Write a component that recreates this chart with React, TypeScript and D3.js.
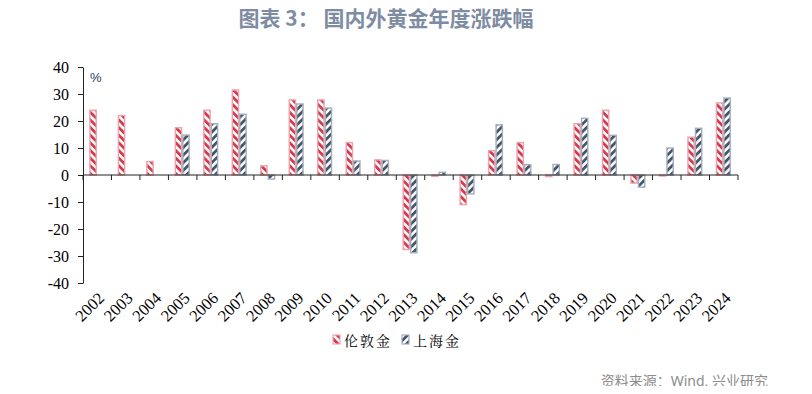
import { useEffect, useRef } from "react";
import * as d3 from "d3";

const years = [
  "2002", "2003", "2004", "2005", "2006", "2007", "2008", "2009", "2010", "2011", "2012",
  "2013", "2014", "2015", "2016", "2017", "2018", "2019", "2020", "2021", "2022", "2023", "2024",
];
const londonGold = [
  24, 22, 5, 17.5, 24, 31.5, 3.4, 27.8, 27.8, 12, 5.6,
  -27.6, -0.5, -11, 9, 12, -0.6, 19, 24, -3, -0.3, 14, 26.7,
];
const shanghaiGold: (number | null)[] = [
  null, null, null, 14.8, 19, 22.5, -1.5, 26.3, 24.8, 5.2, 5.4,
  -28.8, 1, -7, 18.6, 3.8, 3.9, 21, 14.7, -4.5, 10, 17.3, 28.5,
];
const seriesNames = ["伦敦金", "上海金"];
const yTicks = [-40, -30, -20, -10, 0, 10, 20, 30, 40];

const RED = "#D23A4E";
const RED_EDGE = "#EBA3AD";
const BLUE = "#44546A";
const BLUE_EDGE = "#A3ADBC";

export default function App() {
  const svgRef = useRef<SVGSVGElement>(null);

  useEffect(() => {
    if (!svgRef.current) return;
    const svg = d3.select(svgRef.current);
    svg.selectAll("*").remove();

    const W = 812, H = 394;
    const left = 83, right = 738, top = 67, bottom = 283;

    svg.attr("width", W).attr("height", H);
    svg.append("rect").attr("width", W).attr("height", H).attr("fill", "#fff");

    // hatch patterns
    const defs = svg.append("defs");
    const makePattern = (id: string, color: string, angle: number) => {
      const p = defs.append("pattern")
        .attr("id", id)
        .attr("patternUnits", "userSpaceOnUse")
        .attr("width", 5.4)
        .attr("height", 5.4)
        .attr("patternTransform", `rotate(${angle})`);
      p.append("rect").attr("width", 5.4).attr("height", 5.4).attr("fill", "#fff");
      p.append("rect").attr("x", 0).attr("y", 0).attr("width", 2.8).attr("height", 5.4).attr("fill", color);
    };
    makePattern("hatchRed", RED, -45);
    makePattern("hatchBlue", BLUE, 45);

    // title
    svg.append("text")
      .attr("x", 386)
      .attr("y", 26)
      .attr("text-anchor", "middle")
      .style("font-family", "'Noto Sans CJK SC', 'Noto Sans', sans-serif")
      .style("font-size", "21px")
      .style("font-weight", "bold")
      .style("fill", "#7D8CA3")
      .text("图表 3：  国内外黄金年度涨跌幅");

    const x = d3.scaleBand<string>().domain(years).range([left, right]).padding(0);
    const x1 = d3.scaleBand<string>().domain(seriesNames).range([6.3, 21.3]).padding(0);
    const y = d3.scaleLinear().domain([-40, 40]).range([bottom, top]);

    const fonts = "'Liberation Serif', 'Times New Roman', serif";

    // y axis
    const yAxis = svg.append("g")
      .attr("transform", `translate(${left},0)`)
      .call(
        d3.axisLeft(y)
          .tickValues(yTicks)
          .tickFormat(d => String(d))
          .tickSize(5)
          .tickPadding(9)
          .tickSizeOuter(0)
      );
    yAxis.select(".domain").attr("stroke", "#222");
    yAxis.selectAll(".tick line").attr("stroke", "#222");
    yAxis.selectAll("text")
      .style("font-family", fonts)
      .style("font-size", "16px")
      .style("fill", "#000");

    // bars
    const groups = svg.append("g")
      .selectAll("g")
      .data(years)
      .enter()
      .append("g")
      .attr("transform", d => `translate(${x(d)},0)`);

    const drawBar = (
      vals: (number | null)[],
      name: string,
      fill: string,
      edge: string
    ) => {
      groups.each(function (_d, i) {
        const v = vals[i];
        if (v === null || v === undefined) return;
        const y0 = y(Math.max(0, v));
        const h = Math.max(Math.abs(y(v) - y(0)), 1);
        d3.select(this)
          .append("rect")
          .attr("x", (x1(name) || 0) + 0.6)
          .attr("y", y0)
          .attr("width", x1.bandwidth() - 1.2)
          .attr("height", h)
          .attr("fill", fill)
          .attr("stroke", edge)
          .attr("stroke-width", 1.4);
      });
    };
    drawBar(londonGold, seriesNames[0], "url(#hatchRed)", RED_EDGE);
    drawBar(shanghaiGold, seriesNames[1], "url(#hatchBlue)", BLUE_EDGE);

    // x axis (zero line) with ticks between categories
    const zeroY = y(0);
    const xAxis = svg.append("g").attr("transform", `translate(0,${zeroY})`);
    xAxis.append("line")
      .attr("x1", left).attr("x2", right)
      .attr("stroke", "#222");
    const boundaries = years.map(d => x(d) as number).concat([right]);
    xAxis.selectAll(".btick")
      .data(boundaries)
      .enter()
      .append("line")
      .attr("class", "btick")
      .attr("x1", d => d).attr("x2", d => d)
      .attr("y1", 0).attr("y2", 5)
      .attr("stroke", "#222");

    // x labels
    svg.append("g")
      .selectAll("text")
      .data(years)
      .enter()
      .append("text")
      .attr("transform", d => `translate(${(x(d) || 0) + x.bandwidth() / 2 + 4},${bottom + 12}) rotate(-45)`)
      .attr("text-anchor", "end")
      .attr("dy", "0.35em")
      .style("font-family", fonts)
      .style("font-size", "16.5px")
      .style("fill", "#000")
      .text(d => d);

    // % unit
    svg.append("text")
      .attr("x", 90)
      .attr("y", 82)
      .style("font-family", "'Liberation Sans', Arial, sans-serif")
      .style("font-size", "13px")
      .style("fill", "#1F3864")
      .text("%");

    // legend
    const legend = svg.append("g");
    const legendItems = [
      { name: seriesNames[0], fill: "url(#hatchRed)", edge: RED_EDGE, x: 333 },
      { name: seriesNames[1], fill: "url(#hatchBlue)", edge: BLUE_EDGE, x: 402 },
    ];
    legendItems.forEach(it => {
      legend.append("rect")
        .attr("x", it.x)
        .attr("y", 335)
        .attr("width", 7)
        .attr("height", 9)
        .attr("fill", it.fill)
        .attr("stroke", it.edge)
        .attr("stroke-width", 1.2);
      legend.append("text")
        .attr("x", it.x + 11)
        .attr("y", 346)
        .style("font-family", "'Noto Serif CJK SC', 'Noto Sans CJK SC', serif")
        .style("font-size", "14px")
        .style("letter-spacing", "2px")
        .style("fill", "#000")
        .text(it.name);
    });

    // source
    svg.append("text")
      .attr("x", 768)
      .attr("y", 386)
      .attr("text-anchor", "end")
      .style("font-family", "'Noto Sans', 'Noto Sans CJK SC', sans-serif")
      .style("font-size", "14px")
      .style("fill", "#8C8C8C")
      .text("资料来源：Wind, 兴业研究");
  }, []);

  return (
    <div style={{ margin: -8 }}>
      <svg ref={svgRef} style={{ display: "block" }} />
    </div>
  );
}
